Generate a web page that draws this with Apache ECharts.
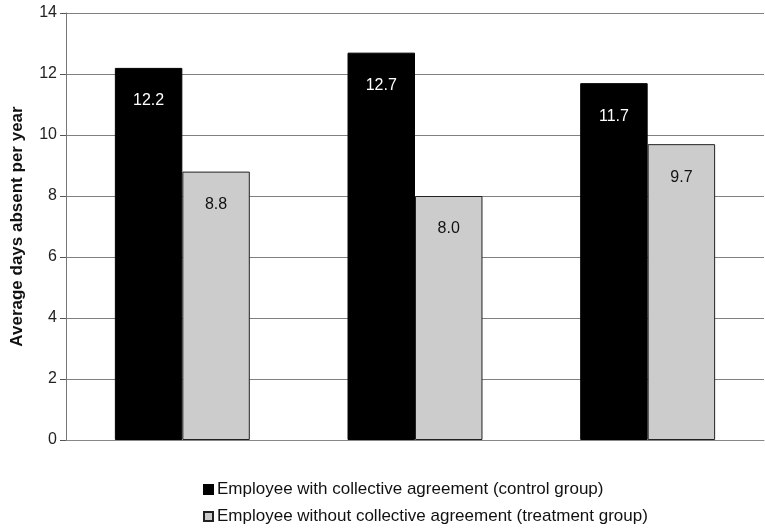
<!DOCTYPE html>
<html><head><meta charset="utf-8">
<script src="https://cdn.jsdelivr.net/npm/echarts@6/dist/echarts.min.js"></script>
<style>html,body{margin:0;padding:0;background:#fff}#c{width:765px;height:528px}</style>
</head><body><div id="c"></div>
<script>
const categories = ['', '', ''];
const controlValues = [12.2, 12.7, 11.7];
const treatmentValues = [8.8, 8.0, 9.7];
const seriesNames = ['Employee with collective agreement (control group)', 'Employee without collective agreement (treatment group)'];
const yTicks = [0, 2, 4, 6, 8, 10, 12, 14];

const chart = echarts.init(document.getElementById('c'));
const font = 'Liberation Sans, Arial, sans-serif';
const legendBase = {
  orient: 'horizontal', left: 198,
  itemWidth: 9, itemHeight: 9, icon: 'rect', itemGap: 4,
  textStyle: {fontSize: 17, color: '#111', fontFamily: font, padding: [0, 0, 0, -1]}
};
chart.setOption({
  animation: false,
  textStyle: {fontFamily: font},
  grid: {left: 66, right: 1, top: 13, bottom: 88, outerBoundsMode: 'none', containLabel: false},
  legend: [
    Object.assign({}, legendBase, {top: 476, data: [seriesNames[0]]}),
    Object.assign({}, legendBase, {top: 503, data: [seriesNames[1]]})
  ],
  xAxis: {
    type: 'category', data: categories,
    axisLine: {lineStyle: {color: '#888'}},
    axisTick: {show: false}, axisLabel: {show: false}
  },
  yAxis: {
    type: 'value', min: yTicks[0], max: yTicks[yTicks.length - 1], interval: 2,
    name: 'Average days absent per year', nameLocation: 'middle', nameGap: 40,
    nameTextStyle: {fontSize: 17, fontWeight: 'bold', color: '#111', fontFamily: font},
    axisLine: {show: true, lineStyle: {color: '#777'}},
    axisTick: {show: true, length: 6, lineStyle: {color: '#555'}},
    axisLabel: {fontSize: 16, color: '#222', margin: 9, fontFamily: font},
    splitLine: {lineStyle: {color: '#808080', width: 1}}
  },
  series: [
    {
      name: seriesNames[0], type: 'bar', data: controlValues,
      barWidth: '29%', barGap: '0%',
      itemStyle: {color: '#000', borderColor: '#000', borderWidth: 1},
      label: {show: true, position: 'insideTop', distance: 25, color: '#fff', fontSize: 16,
        fontFamily: font, formatter: p => p.value.toFixed(1)}
    },
    {
      name: seriesNames[1], type: 'bar', data: treatmentValues,
      barWidth: '29%', barGap: '0%',
      itemStyle: {color: '#cccccc', borderColor: '#222', borderWidth: 1},
      label: {show: true, position: 'insideTop', distance: 25, color: '#111', fontSize: 16,
        fontFamily: font, formatter: p => p.value.toFixed(1)}
    }
  ]
});
</script></body></html>
